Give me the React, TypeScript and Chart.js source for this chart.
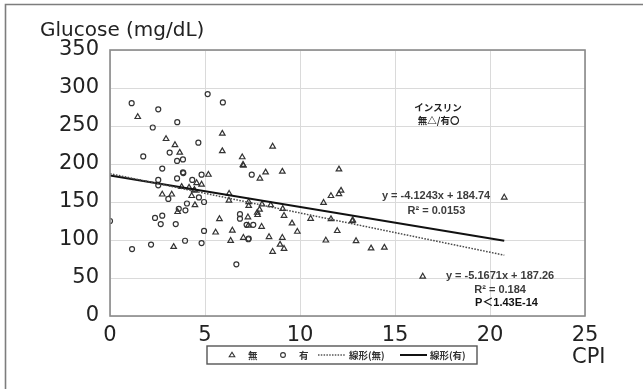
import React, { useEffect, useRef } from "react";
import { Chart, registerables } from "chart.js";

Chart.register(...registerables);

// ---- Data ----
// 無 (no insulin) – triangles
const noInsulinX = [
  1.46, 2.95, 3.42, 5.91, 5.91, 3.67, 5.18, 4.56, 4.82, 3.77, 4.16, 4.44, 4.44, 2.75, 3.25, 4.3, 4.47, 3.56,
  6.96, 7.0, 7.02, 7.89, 8.19, 8.56, 9.07, 6.27, 6.26, 7.3, 7.3, 8.0, 7.87, 7.75, 7.77, 8.46, 9.09, 9.16,
  7.26, 7.28, 7.98, 5.76, 5.56, 6.44, 6.35, 7.02, 8.37, 9.07, 9.58, 9.86, 8.95, 9.16, 8.56, 10.56, 11.24,
  11.63, 11.63, 11.36, 12.05, 12.05, 12.16, 12.75, 12.78, 11.96, 12.95, 13.74, 14.44, 16.46, 20.75, 3.35,
];
const noInsulinY = [
  262, 233, 225, 240, 217, 215, 186, 175, 173, 170, 169, 166, 165, 160, 160, 158, 146, 137,
  209, 199, 198, 181, 189, 223, 190, 161, 152, 150, 145, 147, 140, 136, 133, 146, 141, 132,
  130, 119, 117.5, 127.6, 110, 112.5, 99, 103, 104, 103, 122, 111, 94, 88.5, 84.6, 128, 149,
  158, 127.5, 99.5, 193, 160.5, 165, 125, 126, 112, 98.7, 89, 90, 52, 156, 91,
];
// 有 (insulin) – circles
const insulinX = [
  1.14, 2.54, 5.14, 5.94, 2.25, 3.54, 4.65, 1.75, 3.14, 3.53, 3.84, 2.75, 3.84, 3.86, 3.53, 4.82, 2.54,
  2.54, 4.33, 7.46, 3.07, 4.68, 4.95, 4.05, 3.62, 3.97, 2.37, 2.75, 2.67, 3.46, 0, 4.95, 1.16, 2.16,
  3.95, 4.82, 6.84, 6.84, 7.19, 7.54, 7.28, 7.3, 6.65,
];
const insulinY = [
  280, 272, 292, 281, 248, 255, 228, 210, 215, 204, 206, 194, 189, 188, 181, 186, 179,
  172, 179, 186, 154, 156, 150, 148, 141, 139, 129, 132, 121, 121, 125, 112, 88, 94,
  99, 96, 134, 128, 120, 120, 101, 102, 68,
];
// 線形 (linear trend) end points
const trendNoX = [0, 20.75];
const trendNoY = [187.26, 80.04];
const trendYesX = [0, 20.75];
const trendYesY = [184.74, 99.16];

const xTicks = [0, 5, 10, 15, 20, 25];
const yTicks = [0, 50, 100, 150, 200, 250, 300, 350];

const yTitle = "Glucose (mg/dL)";
const xTitle = "CPI";
const legendLabels = ["無", "有", "線形(無)", "線形(有)"];
const noteLines = ["インスリン", "無△/有〇"];
const eqNo = ["y = -5.1671x + 187.26", "R² = 0.184", "P＜1.43E-14"];
const eqYes = ["y = -4.1243x + 184.74", "R² = 0.0153"];

const pts = (xs: number[], ys: number[]) => xs.map((x, i) => ({ x, y: ys[i] }));

const decor = {
  id: "decor",
  beforeDraw(chart: any) {
    const { ctx, width, height } = chart;
    ctx.save();
    ctx.fillStyle = "#ffffff";
    ctx.fillRect(0, 0, width, height);
    // outer frame (top + left)
    ctx.strokeStyle = "#7d7d7d";
    ctx.lineWidth = 1.6;
    ctx.beginPath();
    ctx.moveTo(width, 4.5);
    ctx.lineTo(5.5, 4.5);
    ctx.lineTo(5.5, height);
    ctx.stroke();
    ctx.restore();
  },
  afterDraw(chart: any) {
    const { ctx, chartArea } = chart;
    const xs = chart.scales.x;
    const ys = chart.scales.y;
    const px = (v: number) => xs.getPixelForValue(v);
    const py = (v: number) => ys.getPixelForValue(v);
    ctx.save();
    // plot border
    ctx.strokeStyle = "#8a8a8a";
    ctx.lineWidth = 1.6;
    ctx.strokeRect(chartArea.left, chartArea.top, chartArea.right - chartArea.left, chartArea.bottom - chartArea.top);

    // axis titles
    ctx.fillStyle = "#222";
    ctx.font = "20px 'DejaVu Sans'";
    ctx.textAlign = "left";
    ctx.textBaseline = "alphabetic";
    ctx.fillText(yTitle, 40, 36);
    ctx.font = "21px 'DejaVu Sans'";
    ctx.textAlign = "center";
    ctx.fillText(xTitle, px(25.2), 363);

    // notes
    ctx.fillStyle = "#222";
    ctx.font = "bold 9.5px 'Noto Sans CJK JP'";
    ctx.textAlign = "center";
    ctx.textBaseline = "middle";
    ctx.fillText(noteLines[0], px(17.26), py(275));
    ctx.fillText(noteLines[1], px(17.3), py(258));

    ctx.fillStyle = "#3c3c3c";
    ctx.font = "bold 11px 'Liberation Sans'";
    ctx.fillText(eqYes[0], px(17.16), py(158));
    ctx.fillText(eqYes[1], px(17.18), py(138));
    ctx.fillText(eqNo[0], px(20.53), py(52.6));
    ctx.fillText(eqNo[1], px(20.53), py(34));
    ctx.fillStyle = "#111";
    ctx.textAlign = "left";
    ctx.font = "bold 11px 'Liberation Sans', 'Noto Sans CJK JP'";
    ctx.fillText(eqNo[2], px(19.21), py(17));

    // legend box
    const lx = 207, ly = 346, lw = 270, lh = 18;
    const cy = ly + lh / 2;
    ctx.fillStyle = "#fff";
    ctx.fillRect(lx, ly, lw, lh);
    ctx.strokeStyle = "#555";
    ctx.lineWidth = 1.4;
    ctx.strokeRect(lx, ly, lw, lh);
    // triangle marker
    ctx.strokeStyle = "#333";
    ctx.lineWidth = 1.1;
    ctx.beginPath();
    ctx.moveTo(232, cy - 2.8);
    ctx.lineTo(234.8, cy + 1.8);
    ctx.lineTo(229.2, cy + 1.8);
    ctx.closePath();
    ctx.stroke();
    // circle marker
    ctx.beginPath();
    ctx.arc(283, cy, 2.4, 0, Math.PI * 2);
    ctx.stroke();
    // dotted line
    ctx.strokeStyle = "#555";
    ctx.lineWidth = 1.3;
    ctx.setLineDash([1.5, 1.3]);
    ctx.beginPath();
    ctx.moveTo(318, cy);
    ctx.lineTo(346, cy);
    ctx.stroke();
    ctx.setLineDash([]);
    // solid line
    ctx.strokeStyle = "#111";
    ctx.lineWidth = 2;
    ctx.beginPath();
    ctx.moveTo(400, cy);
    ctx.lineTo(427, cy);
    ctx.stroke();
    ctx.fillStyle = "#333";
    ctx.font = "bold 9.5px 'Noto Sans CJK JP'";
    ctx.textAlign = "left";
    ctx.textBaseline = "middle";
    ctx.fillText(legendLabels[0], 248, cy);
    ctx.fillText(legendLabels[1], 299, cy);
    ctx.fillText(legendLabels[2], 349, cy);
    ctx.fillText(legendLabels[3], 430, cy);
    ctx.restore();
  },
};

export default function App() {
  const ref = useRef<HTMLCanvasElement | null>(null);
  useEffect(() => {
    if (!ref.current) return;
    const chart = new Chart(ref.current, {
      type: "scatter",
      data: {
        datasets: [
          {
            label: legendLabels[2],
            type: "line",
            data: pts(trendNoX, trendNoY),
            borderColor: "#4a4a4a",
            borderWidth: 1.5,
            borderDash: [1.6, 1.4],
            pointRadius: 0,
            fill: false,
            order: 0,
          } as any,
          {
            label: legendLabels[3],
            type: "line",
            data: pts(trendYesX, trendYesY),
            borderColor: "#111",
            borderWidth: 2,
            pointRadius: 0,
            fill: false,
            order: 0,
          } as any,
          {
            label: legendLabels[0],
            data: pts(noInsulinX, noInsulinY),
            pointStyle: "triangle",
            pointRadius: 3.2,
            borderColor: "#333",
            backgroundColor: "rgba(255,255,255,0)",
            borderWidth: 1.2,
            order: 1,
          },
          {
            label: legendLabels[1],
            data: pts(insulinX, insulinY),
            pointStyle: "circle",
            pointRadius: 2.5,
            borderColor: "#333",
            backgroundColor: "rgba(255,255,255,0)",
            borderWidth: 1.2,
            order: 1,
          },
        ],
      },
      options: {
        responsive: false,
        animation: false,
        layout: { padding: { top: 50, right: 58, bottom: 0, left: 0 } },
        plugins: { legend: { display: false }, tooltip: { enabled: false }, title: { display: false } },
        scales: {
          x: {
            type: "linear",
            min: xTicks[0],
            max: xTicks[xTicks.length - 1],
            afterBuildTicks: (s: any) => {
              s.ticks = xTicks.map((v) => ({ value: v }));
            },
            afterFit: (s: any) => {
              s.height = 73;
            },
            ticks: {
              font: { family: "DejaVu Sans", size: 21 },
              color: "#222",
              padding: 7,
              maxRotation: 0,
              autoSkip: false,
            },
            grid: { color: "#dadada", lineWidth: 1, drawTicks: false },
            border: { display: false },
          },
          y: {
            type: "linear",
            min: yTicks[0],
            max: yTicks[yTicks.length - 1],
            afterBuildTicks: (s: any) => {
              s.ticks = yTicks.map((v) => ({ value: v }));
            },
            afterFit: (s: any) => {
              s.width = 110;
            },
            ticks: {
              font: { family: "DejaVu Sans", size: 21 },
              color: "#222",
              padding: 11,
              autoSkip: false,
            },
            grid: { color: "#dadada", lineWidth: 1, drawTicks: false },
            border: { display: false },
          },
        },
      },
      plugins: [decor],
    });
    return () => chart.destroy();
  }, []);
  return (
    <div style={{ position: "absolute", left: 0, top: 0, width: 643, height: 389, background: "#fff" }}>
      <canvas ref={ref} width={643} height={389} style={{ display: "block" }} />
    </div>
  );
}
